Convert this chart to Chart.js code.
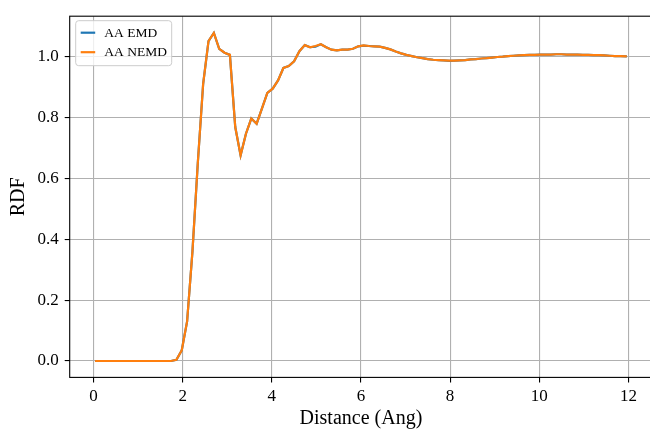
<!DOCTYPE html>
<html>
<head>
<meta charset="utf-8">
<script src="https://cdn.jsdelivr.net/npm/chart.js@4"></script>
<style>
  html, body { margin: 0; padding: 0; background: #fff; overflow: hidden; }
  #wrap { width: 653px; height: 431px; }
</style>
</head>
<body>
<div id="wrap"><canvas id="myChart"></canvas></div>
<script>
// distance bins (Ang)
const distance = [0.06, 0.18, 0.30, 0.42, 0.54, 0.66, 0.78, 0.90, 1.02, 1.14,
  1.26, 1.38, 1.50, 1.62, 1.74, 1.86, 1.98, 2.10, 2.22, 2.34,
  2.46, 2.58, 2.70, 2.82, 2.94, 3.06, 3.18, 3.30, 3.42, 3.54,
  3.66, 3.78, 3.90, 4.02, 4.14, 4.26, 4.38, 4.50, 4.62, 4.74,
  4.86, 4.98, 5.10, 5.22, 5.34, 5.46, 5.58, 5.70, 5.82, 5.94,
  6.06, 6.18, 6.30, 6.42, 6.54, 6.66, 6.78, 6.90, 7.02, 7.14,
  7.26, 7.38, 7.50, 7.62, 7.74, 7.86, 7.98, 8.10, 8.22, 8.34,
  8.46, 8.58, 8.70, 8.82, 8.94, 9.06, 9.18, 9.30, 9.42, 9.54,
  9.66, 9.78, 9.90, 10.02, 10.14, 10.26, 10.38, 10.50, 10.62, 10.74,
  10.86, 10.98, 11.10, 11.22, 11.34, 11.46, 11.58, 11.70, 11.82, 11.94];

const rdfEMD = [0, 0, 0, 0, 0, 0, 0, 0, 0, 0,
  0, 0, 0, 0, 0, 0.004, 0.035, 0.13, 0.36, 0.65,
  0.91, 1.05, 1.077, 1.025, 1.012, 1.005, 0.768, 0.675, 0.746, 0.796,
  0.779, 0.829, 0.88, 0.894, 0.921, 0.962, 0.968, 0.984, 1.017, 1.037,
  1.030, 1.032, 1.040, 1.030, 1.022, 1.020, 1.022, 1.022, 1.025, 1.033,
  1.035, 1.034, 1.033, 1.032, 1.028, 1.023, 1.016, 1.010, 1.005, 1.001,
  0.997, 0.994, 0.991, 0.989, 0.988, 0.987, 0.985, 0.986, 0.987, 0.988,
  0.990, 0.991, 0.993, 0.994, 0.996, 0.998, 0.999, 1.001, 1.002, 1.003,
  1.004, 1.005, 1.005, 1.006, 1.006, 1.006, 1.007, 1.007, 1.006, 1.006,
  1.006, 1.005, 1.005, 1.004, 1.004, 1.003, 1.002, 1.001, 1.001, 1.000];

const rdfNEMD = [0, 0, 0, 0, 0, 0, 0, 0, 0, 0,
  0, 0, 0, 0, 0, 0.004, 0.035, 0.13, 0.36, 0.65,
  0.91, 1.05, 1.077, 1.025, 1.012, 1.005, 0.768, 0.675, 0.746, 0.796,
  0.779, 0.829, 0.88, 0.894, 0.921, 0.962, 0.968, 0.984, 1.017, 1.037,
  1.030, 1.034, 1.040, 1.030, 1.022, 1.020, 1.022, 1.022, 1.025, 1.033,
  1.036, 1.034, 1.033, 1.032, 1.028, 1.023, 1.016, 1.010, 1.005, 1.001,
  0.997, 0.994, 0.991, 0.989, 0.988, 0.987, 0.986, 0.986, 0.987, 0.988,
  0.990, 0.991, 0.993, 0.994, 0.996, 0.998, 0.999, 1.001, 1.002, 1.003,
  1.004, 1.005, 1.005, 1.006, 1.006, 1.006, 1.007, 1.007, 1.006, 1.006,
  1.006, 1.005, 1.005, 1.004, 1.004, 1.003, 1.002, 1.001, 1.001, 1.000];

const xTicks = [0, 2, 4, 6, 8, 10, 12];
const yTicks = [0, 0.2, 0.4, 0.6, 0.8, 1.0];

const serif = "'Liberation Serif', 'DejaVu Serif', serif";

const toPoints = ys => distance.map((x, i) => ({x: x, y: ys[i]}));

// spines + legend drawn inside the axes like matplotlib
const frameAndLegend = {
  id: 'frameAndLegend',
  afterDraw(chart) {
    const c = chart.ctx;
    const a = chart.chartArea;
    c.save();
    c.strokeStyle = '#000';
    c.lineWidth = 1.1;
    c.strokeRect(a.left, a.top, a.right - a.left, a.bottom - a.top);

    const bx = a.left + 6, by = a.top + 4.5, bw = 96, bh = 45;
    c.beginPath();
    c.roundRect(bx, by, bw, bh, 3);
    c.fillStyle = 'rgba(255,255,255,0.8)';
    c.fill();
    c.strokeStyle = '#cccccc';
    c.lineWidth = 1;
    c.stroke();

    c.font = "13.5px " + serif;
    c.textBaseline = 'middle';
    c.textAlign = 'left';
    chart.data.datasets.forEach((ds, i) => {
      const y = by + 12 + i * 19.5;
      c.beginPath();
      c.moveTo(bx + 5, y);
      c.lineTo(bx + 19.5, y);
      c.strokeStyle = ds.borderColor;
      c.lineWidth = 2.2;
      c.stroke();
      c.fillStyle = '#000';
      c.fillText(ds.label, bx + 28.6, y + 0.5);
    });
    c.restore();
  }
};

const ctx = document.getElementById('myChart').getContext('2d');
const myChart = new Chart(ctx, {
  type: 'line',
  data: {
    datasets: [{
      label: 'AA EMD',
      data: toPoints(rdfEMD),
      borderColor: '#1f77b4',
      borderWidth: 2.2,
      pointRadius: 0,
      fill: false,
      order: 2
    }, {
      label: 'AA NEMD',
      data: toPoints(rdfNEMD),
      borderColor: '#ff7f0e',
      borderWidth: 2.2,
      pointRadius: 0,
      fill: false,
      order: 1
    }]
  },
  options: {
    responsive: true,
    maintainAspectRatio: false,
    animation: false,
    layout: { padding: { top: 15.8, right: 0.8, left: 0, bottom: 0 } },
    plugins: { legend: { display: false }, tooltip: { enabled: false } },
    elements: { line: { tension: 0, borderCapStyle: 'square' } },
    scales: {
      x: {
        type: 'linear',
        min: -0.534,
        max: 12.534,
        afterBuildTicks: s => { s.ticks = xTicks.map(v => ({value: v})); },
        afterFit: s => { s.height = 53.6; },
        grid: { color: '#b0b0b0', lineWidth: 1.1, tickLength: 5, tickColor: '#000', tickWidth: 1.1 },
        border: { display: false },
        ticks: { color: '#000', font: { family: serif, size: 17 }, padding: 4, maxRotation: 0,
                 callback: v => String(v) },
        title: { display: true, text: 'Distance (Ang)', color: '#000',
                 font: { family: serif, size: 20 }, padding: { top: 0, bottom: 0 } }
      },
      y: {
        type: 'linear',
        min: -0.0539,
        max: 1.1319,
        afterBuildTicks: s => { s.ticks = yTicks.map(v => ({value: v})); },
        afterFit: s => { s.width = 69.7; },
        grid: { color: '#b0b0b0', lineWidth: 1.1, tickLength: 5, tickColor: '#000', tickWidth: 1.1 },
        border: { display: false },
        ticks: { color: '#000', font: { family: serif, size: 17 }, padding: 6,
                 callback: v => v.toFixed(1) },
        title: { display: true, text: 'RDF', color: '#000',
                 font: { family: serif, size: 20 }, padding: { top: 6.5, bottom: 0 } }
      }
    }
  },
  plugins: [frameAndLegend]
});
</script>
</body>
</html>
